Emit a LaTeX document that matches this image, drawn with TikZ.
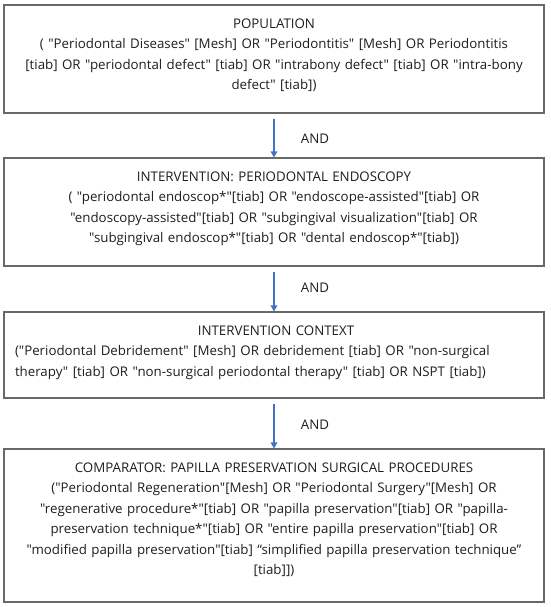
\documentclass[tikz,border=0pt]{standalone}
\usepackage{fontspec}
\newfontfamily\bodyfont{Open Sans}
\usetikzlibrary{arrows.meta}
\definecolor{arrblue}{RGB}{68,114,196}
\definecolor{boxgray}{RGB}{105,105,105}
\definecolor{txtcol}{RGB}{30,30,30}
\begin{document}
\begin{tikzpicture}[x=1pt,y=-1pt,
  box/.style={draw=boxgray, line width=1.1pt, minimum width=540pt, inner sep=0pt},
  txt/.style={text width=534pt, align=center, inner sep=0pt, anchor=north,
    font=\bodyfont\fontsize{13.3}{20.5}\selectfont, text=txtcol},
  andlbl/.style={font=\bodyfont\fontsize{13.3}{15}\selectfont, text=txtcol, inner sep=0pt},
  arr/.style={draw=arrblue, line width=1.3pt, -{Triangle[length=6pt,width=6.5pt]}}]
\useasboundingbox (0,0) rectangle (550,607);
\fill[white] (0,0) rectangle (550,607);

\node[box, minimum height=108pt] (b1) at (274,59) {};
\node[box, minimum height=108pt] (b2) at (274,212) {};
\node[box, minimum height=86pt] (b3) at (274,355) {};
\node[box, minimum height=153pt] (b4) at (274,525.5) {};

\node[txt] (t1) at (274,13.6) {\strut POPULATION\\
( "Periodontal Diseases" [Mesh] OR "Periodontitis" [Mesh] OR Periodontitis\\\relax
[tiab] OR "periodontal defect" [tiab] OR "intrabony defect" [tiab] OR "intra-bony\\
defect" [tiab])};

\node[txt] (t2) at (274,166.6) {\strut INTERVENTION: PERIODONTAL ENDOSCOPY\\
( "periodontal endoscop*"[tiab] OR "endoscope-assisted"[tiab] OR\\
"endoscopy-assisted"[tiab] OR "subgingival visualization"[tiab] OR\\
"subgingival endoscop*"[tiab] OR "dental endoscop*"[tiab])};

\node[txt, text width=522pt] (t3) at (276,320.6) {\strut INTERVENTION CONTEXT\\
\makebox[\hsize][s]{("Periodontal Debridement" [Mesh] OR debridement [tiab] OR "non-surgical}\\
\makebox[\hsize][l]{therapy" [tiab] OR "non-surgical periodontal therapy" [tiab] OR NSPT [tiab])}};

\node[txt] (t4) at (274,457.6) {\strut COMPARATOR: PAPILLA PRESERVATION SURGICAL PROCEDURES\\
("Periodontal Regeneration"[Mesh] OR "Periodontal Surgery"[Mesh] OR\\
"regenerative procedure*"[tiab] OR "papilla preservation"[tiab] OR "papilla-\\
preservation technique*"[tiab] OR "entire papilla preservation"[tiab] OR\\
"modified papilla preservation"[tiab] “simplified papilla preservation technique”\\\relax
[tiab]])};

\node[andlbl] (a1) at (315,139) {AND};
\node[andlbl] (a2) at (315,288) {AND};
\node[andlbl] (a3) at (315,425) {AND};

\draw[arr] ([yshift=-5pt]b1.south) -- (b2.north);
\draw[arr] ([yshift=-5pt]b2.south) -- (b3.north);
\draw[arr] ([yshift=-5pt]b3.south) -- (b4.north);
\end{tikzpicture}
\end{document}
